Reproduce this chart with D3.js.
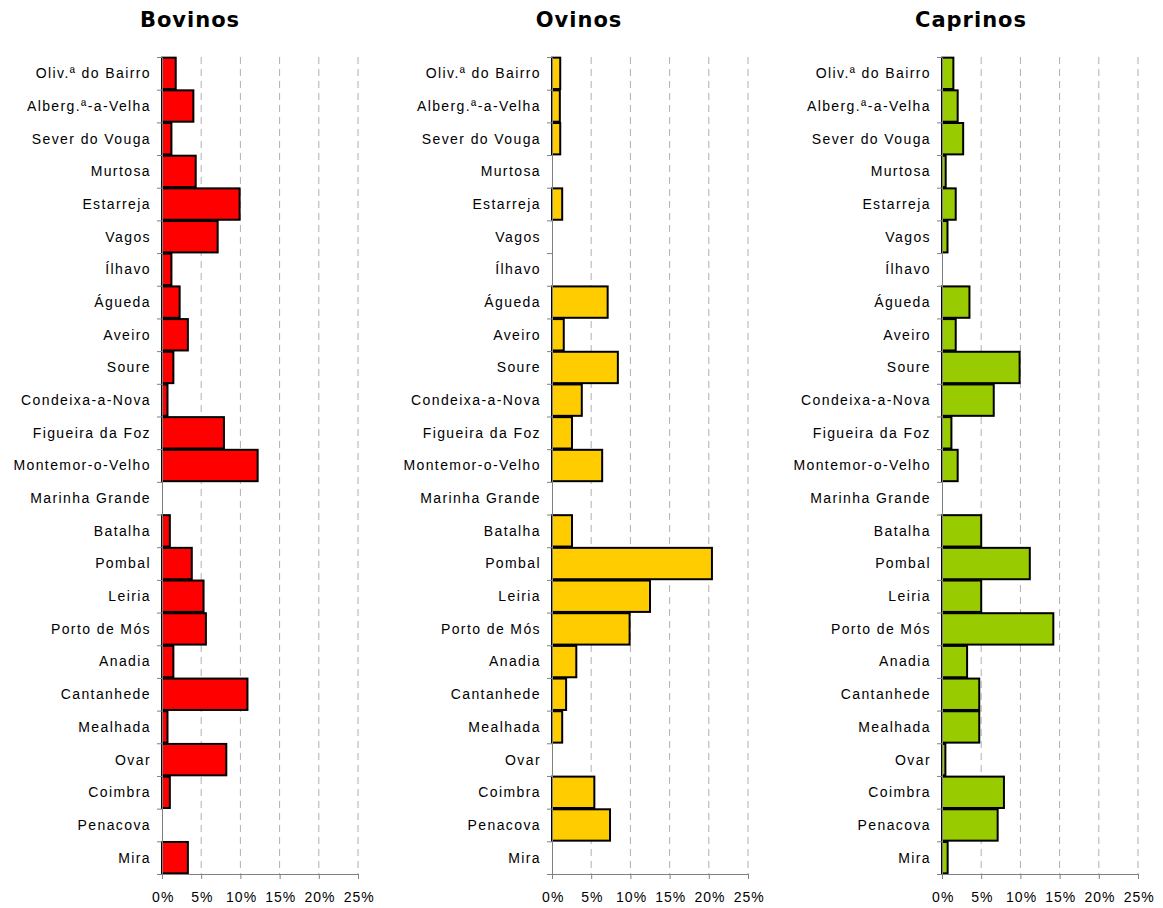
<!DOCTYPE html>
<html>
<head>
<meta charset="utf-8">
<script src="https://cdn.jsdelivr.net/npm/d3@7"></script>
<style>
  body { margin: 0; background: #fff; }
  .axis path, .axis line { stroke: #808080; }
  .axis text { fill: #000; }
</style>
</head>
<body>
<div id="chart"></div>
<script>
// categories, top to bottom
var concelhos = ["Oliv.ª do Bairro", "Alberg.ª-a-Velha", "Sever do Vouga", "Murtosa", "Estarreja",
  "Vagos", "Ílhavo", "Águeda", "Aveiro", "Soure", "Condeixa-a-Nova", "Figueira da Foz",
  "Montemor-o-Velho", "Marinha Grande", "Batalha", "Pombal", "Leiria", "Porto de Mós",
  "Anadia", "Cantanhede", "Mealhada", "Ovar", "Coimbra", "Penacova", "Mira"];

// shares in %
var bovinos = [1.75, 4.0, 1.2, 4.3, 9.9, 7.1, 1.2, 2.25, 3.3, 1.45, 0.7, 7.9, 12.2, 0,
  1.0, 3.8, 5.3, 5.6, 1.45, 10.9, 0.7, 8.2, 1.0, 0, 3.3];
var ovinos = [1.05, 1.0, 1.05, 0, 1.3, 0, 0, 7.1, 1.5, 8.4, 3.8, 2.55, 6.4, 0,
  2.55, 20.4, 12.5, 9.9, 3.1, 1.8, 1.3, 0, 5.4, 7.4, 0];
var caprinos = [1.45, 2.0, 2.7, 0.47, 1.75, 0.7, 0, 3.5, 1.75, 9.9, 6.6, 1.2, 2.0, 0,
  5.0, 11.2, 5.0, 14.2, 3.2, 4.75, 4.75, 0.43, 7.9, 7.1, 0.72];

var titulos = ["Bovinos", "Ovinos", "Caprinos"];
var xTicks = [0, 5, 10, 15, 20, 25];

var panels = [
  {title: titulos[0], values: bovinos, color: "#FF0000"},
  {title: titulos[1], values: ovinos, color: "#FFCC00"},
  {title: titulos[2], values: caprinos, color: "#99CC00"}
];

var W = 1163, H = 908;
var plotTop = 57, plotBottom = 874, plotW = 196;
var panelX = [162, 552, 942];

var svg = d3.select("#chart").append("svg")
  .attr("width", W)
  .attr("height", H);

var y = d3.scaleBand()
  .domain(concelhos)
  .range([plotTop, plotBottom])
  .paddingInner(0.04)
  .paddingOuter(0.02);

// boundary ticks of the category axis
var yb = d3.scaleLinear().domain([0, concelhos.length]).range([plotTop, plotBottom]);

var x = d3.scaleLinear().domain([0, 25]).range([0, plotW]);

panels.forEach(function(p, i) {
  var g = svg.append("g")
    .attr("transform", "translate(" + panelX[i] + ",0)");

  // dashed gridlines
  g.selectAll(".grid")
    .data(xTicks.slice(1))
    .enter().append("line")
      .attr("x1", function(d) { return x(d); })
      .attr("x2", function(d) { return x(d); })
      .attr("y1", plotTop)
      .attr("y2", plotBottom)
      .style("stroke", "#b0b0b0")
      .style("stroke-width", 1)
      .style("stroke-dasharray", "7,5");

  // bars
  g.selectAll(".bar")
    .data(p.values)
    .enter().append("rect")
      .attr("x", x(0))
      .attr("y", function(d, j) { return y(concelhos[j]); })
      .attr("width", function(d) { return x(d); })
      .attr("height", y.bandwidth())
      .style("fill", p.color)
      .style("stroke", function(d) { return d > 0 ? "#000" : "none"; })
      .style("stroke-width", 2);

  // y axis with ticks between categories
  g.append("g")
    .attr("class", "axis")
    .call(d3.axisLeft(yb).tickValues(d3.range(concelhos.length + 1))
      .tickSize(5).tickSizeOuter(0).tickFormat(""));

  // category labels
  g.selectAll(".lab")
    .data(concelhos)
    .enter().append("text")
      .attr("x", -11)
      .attr("y", function(d) { return y(d) + y.bandwidth() / 2; })
      .attr("dy", "0.35em")
      .attr("text-anchor", "end")
      .style("font-family", "'Liberation Sans', Arial, sans-serif")
      .style("font-size", "14px")
      .style("letter-spacing", "1.4px")
      .text(function(d) { return d; });

  // x axis
  var xa = g.append("g")
    .attr("class", "axis")
    .attr("transform", "translate(0," + plotBottom + ")")
    .call(d3.axisBottom(x).tickValues(xTicks).tickSize(5).tickSizeOuter(0)
      .tickFormat(function(d) { return d + "%"; }));
  xa.selectAll("text")
    .attr("dy", "1.4em")
    .attr("dx", "0.05em")
    .style("font-family", "'Liberation Sans', Arial, sans-serif")
    .style("font-size", "14px")
    .style("letter-spacing", "1px");

  // title
  svg.append("text")
    .attr("x", [190, 579, 971][i])
    .attr("y", 27)
    .attr("text-anchor", "middle")
    .style("font-family", "'DejaVu Sans', Verdana, sans-serif")
    .style("font-weight", "bold")
    .style("font-size", "21px")
    .style("letter-spacing", "1px")
    .text(p.title);
});
</script>
</body>
</html>
